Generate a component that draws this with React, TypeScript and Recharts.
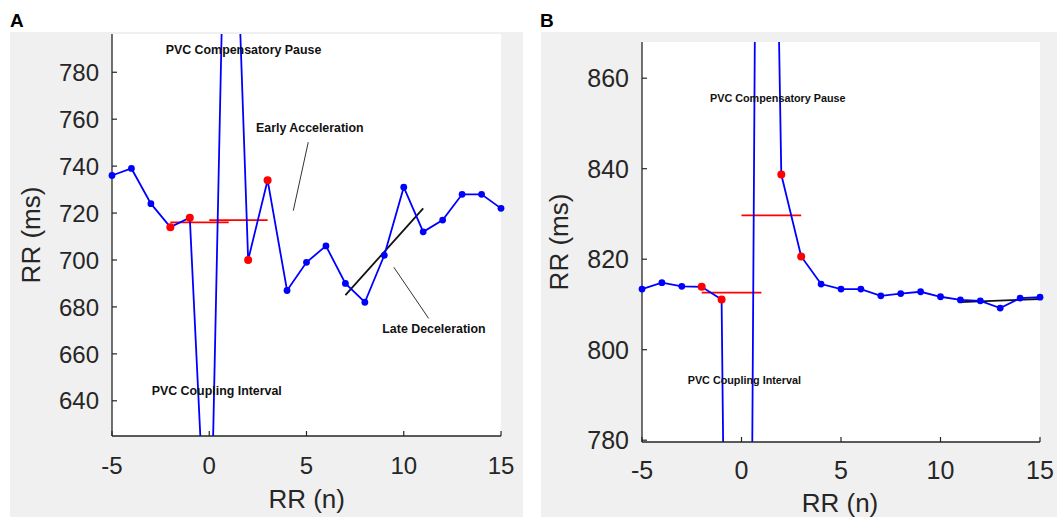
import { Line, LineChart, ReferenceLine, XAxis, YAxis } from "recharts";

// beat index relative to the PVC (x axis of both panels)
const beatIndex = [-5, -4, -3, -2, -1, 0, 1, 2, 3, 4, 5, 6, 7, 8, 9, 10, 11, 12, 13, 14, 15];

// RR intervals in ms; values at 0 and 1 (the PVC) run off the plot
const rrPanelA = [736, 739, 724, 714, 718, 546, 940, 700, 734, 687, 699, 706, 690, 682, 702, 731, 712, 717, 728, 728, 722];
const rrPanelB = [813.4, 814.8, 814.0, 813.9, 811.1, 400, 1100, 838.7, 820.6, 814.5, 813.4, 813.4, 811.9, 812.4, 812.8, 811.7, 811.0, 810.8, 809.2, 811.4, 811.6];

// beats marked in red (the ones averaged before/after the PVC)
const markedBeats = [-2, -1, 2, 3];

const xTicks = [-5, 0, 5, 10, 15];
const yTicksA = [640, 660, 680, 700, 720, 740, 760, 780];
const yTicksB = [780, 800, 820, 840, 860];

// red mean lines: [from, to, rr]
const meanLinesA = [
  [-2, 1, 716],
  [0, 3, 717],
];
const meanLinesB = [
  [-2, 1, 812.6],
  [0, 3, 829.7],
];

// black regression line over the late beats: [x1, y1, x2, y2]
const slopeA = [7, 685, 11, 722];
const slopeB = [11, 810.5, 15, 811.2];

// thin annotation pointers: [x1, y1, x2, y2]
const pointersA = [
  [5.09, 750.2, 4.32, 721],
  [9.49, 696.9, 11.28, 675.1],
];

const INK = "#262626";
const SANS = "'Liberation Sans', Arial, sans-serif";

type PanelProps = {
  left: number;
  top: number;
  width: number;
  height: number;
  margin: { top: number; right: number; bottom: number; left: number };
  xAxisHeight: number;
  rr: number[];
  yDomain: [number, number];
  yTicks: number[];
  means: number[][];
  slope: number[];
  pointers: number[][];
  tickFont: number;
  xLabelDrop: number;
};

function Panel({
  left,
  top,
  width,
  height,
  margin,
  xAxisHeight,
  rr,
  yDomain,
  yTicks,
  means,
  slope,
  pointers,
  tickFont,
  xLabelDrop,
}: PanelProps) {
  const yAxisWidth = 90;
  const data = beatIndex.map((n, i) => ({ n, rr: rr[i] }));
  const plotLeft = margin.left + yAxisWidth;
  const plotW = width - plotLeft - margin.right;
  const plotH = height - margin.top - margin.bottom - xAxisHeight;

  const renderDot = (props: any) => {
    const { cx, cy, payload, index } = props;
    if (payload.rr < yDomain[0] || payload.rr > yDomain[1]) return <g key={index} />;
    const red = markedBeats.includes(payload.n);
    return (
      <circle
        key={index}
        cx={cx}
        cy={cy}
        r={red ? 4 : 3.4}
        fill={red ? "#ff0000" : "#0000ff"}
        stroke="none"
      />
    );
  };

  return (
    <div style={{ position: "absolute", left, top, width, height, background: "#f0f0f0" }}>
      <div
        style={{
          position: "absolute",
          left: plotLeft,
          top: margin.top,
          width: plotW,
          height: plotH,
          background: "#ffffff",
        }}
      />
      <div style={{ position: "absolute", left: 0, top: 0 }}>
        <LineChart width={width} height={height} data={data} margin={margin}>
          <XAxis
            dataKey="n"
            type="number"
            domain={[-5, 15]}
            ticks={xTicks}
            interval={0}
            height={xAxisHeight}
            tickSize={0}
            tickMargin={0}
            tickLine={false}
            axisLine={{ stroke: INK, strokeWidth: 1.3 }}
            tick={(p: any) => (
              <g key={p.index}>
                <line x1={p.x} x2={p.x} y1={p.y} y2={p.y - 5} stroke={INK} strokeWidth={1.2} />
                <text
                  x={p.x}
                  y={p.y + xLabelDrop}
                  textAnchor="middle"
                  fontSize={tickFont}
                  fontFamily={SANS}
                  fill={INK}
                >
                  {p.payload.value}
                </text>
              </g>
            )}
          />
          <YAxis
            type="number"
            domain={yDomain}
            allowDataOverflow
            ticks={yTicks}
            interval={0}
            width={yAxisWidth}
            tickSize={0}
            tickMargin={0}
            tickLine={false}
            axisLine={{ stroke: INK, strokeWidth: 1.3 }}
            tick={(p: any) => (
              <g key={p.index}>
                <line x1={p.x} x2={p.x + 5} y1={p.y} y2={p.y} stroke={INK} strokeWidth={1.2} />
                <text
                  x={p.x - 13}
                  y={p.y}
                  dy="0.36em"
                  textAnchor="end"
                  fontSize={tickFont}
                  fontFamily={SANS}
                  fill={INK}
                >
                  {p.payload.value}
                </text>
              </g>
            )}
          />
          {pointers.map((p, i) => (
            <ReferenceLine
              key={`ptr${i}`}
              segment={[
                { x: p[0], y: p[1] },
                { x: p[2], y: p[3] },
              ]}
              stroke="#333333"
              strokeWidth={1}
            />
          ))}
          <ReferenceLine
            segment={[
              { x: slope[0], y: slope[1] },
              { x: slope[2], y: slope[3] },
            ]}
            stroke="#111111"
            strokeWidth={1.8}
          />
          {means.map((m, i) => (
            <ReferenceLine
              key={`mean${i}`}
              segment={[
                { x: m[0], y: m[2] },
                { x: m[1], y: m[2] },
              ]}
              stroke="#ff0000"
              strokeWidth={1.8}
            />
          ))}
          <Line
            type="linear"
            dataKey="rr"
            stroke="#0000ff"
            strokeWidth={1.8}
            dot={renderDot}
            activeDot={false}
            isAnimationActive={false}
          />
        </LineChart>
      </div>
    </div>
  );
}

export default function App() {
  return (
    <div style={{ position: "absolute", left: 0, top: 0, width: 1057, height: 518, background: "#fff" }}>
      <Panel
        left={10}
        top={32}
        width={513}
        height={485}
        margin={{ top: 2, right: 22, bottom: 0, left: 12 }}
        xAxisHeight={81}
        rr={rrPanelA}
        yDomain={[625, 796.3]}
        yTicks={yTicksA}
        means={meanLinesA}
        slope={slopeA}
        pointers={pointersA}
        tickFont={24}
        xLabelDrop={37.6}
      />
      <Panel
        left={541}
        top={32}
        width={516}
        height={485}
        margin={{ top: 10, right: 17, bottom: 0, left: 11 }}
        xAxisHeight={75}
        rr={rrPanelB}
        yDomain={[779.6, 868]}
        yTicks={yTicksB}
        means={meanLinesB}
        slope={slopeB}
        pointers={[]}
        tickFont={25}
        xLabelDrop={37}
      />
      <svg
        width={1057}
        height={518}
        style={{ position: "absolute", left: 0, top: 0, pointerEvents: "none" }}
        fontFamily={SANS}
      >
        <text x={10} y={26.7} fontSize={19} fontWeight="bold" fill="#000">A</text>
        <text x={540} y={26.7} fontSize={19} fontWeight="bold" fill="#000">B</text>

        <text x={306.7} y={508} textAnchor="middle" fontSize={26} fill={INK}>RR (n)</text>
        <text x={40} y={235} textAnchor="middle" fontSize={26} fill={INK} transform="rotate(-90 40 235)">
          RR (ms)
        </text>
        <text x={840} y={512} textAnchor="middle" fontSize={26} fill={INK}>RR (n)</text>
        <text x={568} y={242} textAnchor="middle" fontSize={26} fill={INK} transform="rotate(-90 568 242)">
          RR (ms)
        </text>

        <g fontWeight="bold" fill="#111">
          <text x={165.7} y={54} fontSize={12.4}>PVC Compensatory Pause</text>
          <text x={256} y={131.7} fontSize={12.4}>Early Acceleration</text>
          <text x={382.3} y={333.3} fontSize={12.4}>Late Deceleration</text>
          <text x={151.7} y={395} fontSize={12.4}>PVC Coupling Interval</text>
          <text x={710} y={101.7} fontSize={10.8}>PVC Compensatory Pause</text>
          <text x={687.7} y={384} fontSize={10.8}>PVC Coupling Interval</text>
        </g>
      </svg>
    </div>
  );
}
